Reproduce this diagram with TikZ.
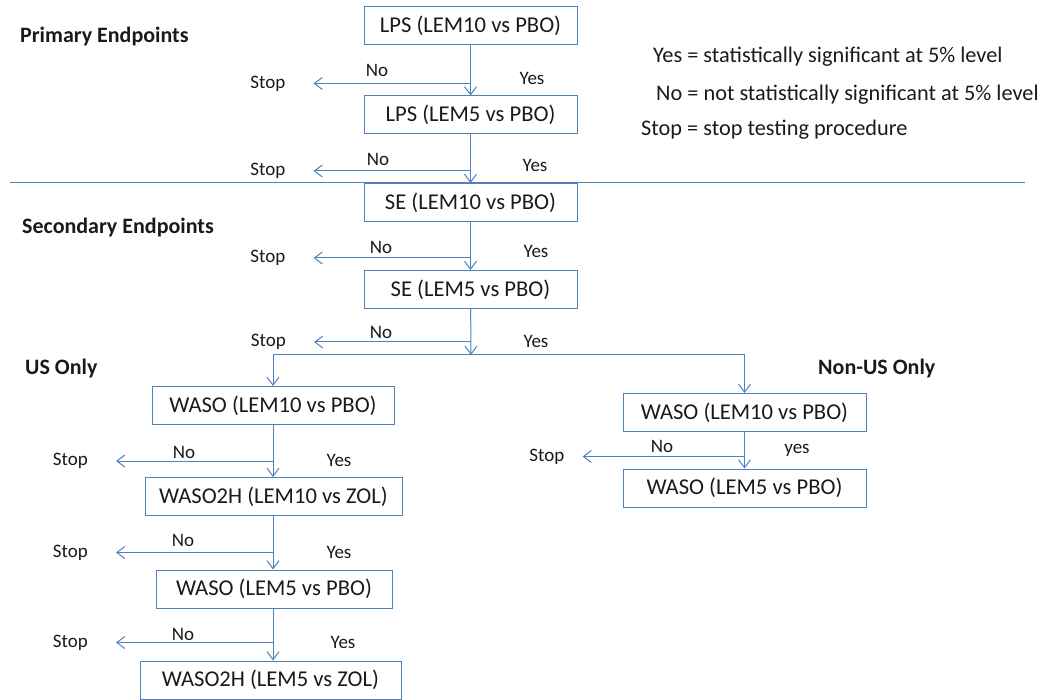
\documentclass[tikz,border=0pt]{standalone}
\usepackage{fontspec}
\setmainfont{Carlito}
\usepackage{tikz}
\usetikzlibrary{positioning, arrows.meta, calc}
\definecolor{flowBlue}{HTML}{4F81BD}
\definecolor{inkDark}{HTML}{1A1A1A}

\begin{document}
\begin{tikzpicture}[
  x=1pt, y=-1pt,
  every node/.style={font=\fontsize{19}{22}\selectfont, text=inkDark},
  test/.style={
    rectangle, draw=flowBlue, line width=1pt,
    minimum height=38pt, inner xsep=0pt,
    font=\fontsize{22.6}{26}\selectfont
  },
  stopnote/.style={inner sep=0pt},
  answer/.style={inner sep=0pt},
  header/.style={font=\fontsize{22}{26}\selectfont\bfseries, anchor=west, inner sep=0pt},
  legend/.style={font=\fontsize{22.3}{26}\selectfont, anchor=west, inner sep=0pt},
  flow/.style={flowBlue, line width=1pt, -{Straight Barb[length=8pt, width=12pt]}},
  nogo/.style={flow, shorten >=28pt},
]
\useasboundingbox (0,0) rectangle (1049,700);

% Primary endpoints
\node[test, minimum width=213pt] (lps10) at (470.5,25.5) {LPS (LEM10 vs PBO)};
\node[test, minimum width=213pt] (lps5) at (470.5,115) {LPS (LEM5 vs PBO)};

% Secondary endpoints
\node[test, minimum width=213pt] (se10) at (470.5,202.5) {SE (LEM10 vs PBO)};
\node[test, minimum width=213pt] (se5) at (470.5,289.5) {SE (LEM5 vs PBO)};

% US only
\node[test, minimum width=242pt] (us1) at (273,405.5) {WASO (LEM10 vs PBO)};
\node[test, minimum width=257pt] (us2) at (273.5,496.5) {WASO2H (LEM10 vs ZOL)};
\node[test, minimum width=236pt] (us3) at (274,589) {WASO (LEM5 vs PBO)};
\node[test, minimum width=261pt] (us4) at (270.5,680) {WASO2H (LEM5 vs ZOL)};

% Non-US only
\node[test, minimum width=243pt] (nu1) at (744.5,412.5) {WASO (LEM10 vs PBO)};
\node[test, minimum width=243pt] (nu2) at (744.5,488) {WASO (LEM5 vs PBO)};

% Section labels
\node[header] (hprim) at (20,37) {Primary Endpoints};
\node[header] (hsec) at (22,228) {Secondary Endpoints};
\node[header] (hus) at (25,369) {US Only};
\node[header] (hnus) at (818,369) {Non-US Only};

% Legend
\node[legend] (ly) at (653,57) {Yes = statistically significant at 5\% level};
\node[legend] (ln) at (656,95) {No = not statistically significant at 5\% level};
\node[legend] (ls) at (641,130) {Stop = stop testing procedure};

% Separator
\draw[flowBlue, line width=1pt] (10,183) coordinate (sepL) -- (1025,183) coordinate (sepR);

% Main trunk
\draw[flow] (lps10) -- (lps5);
\draw[flow] (lps5) -- (se10);
\draw[flow] (se10) -- (se5);
\coordinate (split) at (471,355);
\draw[flow] (se5) -- (split);
\draw[flow] (split) -| (us1);
\draw[flow] (split) -| (nu1);

% US trunk
\draw[flow] (us1.south) -- (us1.south |- us2.north);
\draw[flow] (us1.south |- us2.south) -- (us1.south |- us3.north);
\draw[flow] (us1.south |- us3.south) -- (us1.south |- us4.north);

% Non-US trunk
\draw[flow] (nu1) -- (nu2);

% Branch points for No
\coordinate (q1) at ($(lps5.north)+(0,-12)$);
\coordinate (q2) at ($(se10.north)+(0,-12)$);
\coordinate (q3) at ($(se5.north)+(0,-12)$);
\coordinate (q4) at ($(split)+(0,-13)$);
\coordinate (q5) at ($(us1.south |- us2.north)+(0,-16)$);
\coordinate (q6) at ($(us1.south |- us3.north)+(0,-17)$);
\coordinate (q7) at ($(us1.south |- us4.north)+(0,-18)$);
\coordinate (q8) at ($(nu2.north)+(0,-12)$);

% Stop notes
\foreach \q in {1,...,7} {
  \node[stopnote, left=185pt of q\q] (stop\q) {Stop};
  \draw[nogo] (q\q) -- (stop\q);
}
\node[stopnote, left=180pt of q8] (stop8) {Stop};
\draw[nogo, shorten >=18pt] (q8) -- (stop8);

% Yes / No
\node[answer] (no1) at (377,70) {No};
\node[answer] (yes1) at (532,78) {Yes};
\node[answer] (no2) at (378,159) {No};
\node[answer] (yes2) at (535,165) {Yes};
\node[answer] (no3) at (381,247) {No};
\node[answer] (yes3) at (536,251) {Yes};
\node[answer] (no4) at (381,332) {No};
\node[answer] (yes4) at (536,341) {Yes};
\node[answer] (no5) at (184,452) {No};
\node[answer] (yes5) at (339,460) {Yes};
\node[answer] (no6) at (183,540) {No};
\node[answer] (yes6) at (339,552) {Yes};
\node[answer] (no7) at (183,634) {No};
\node[answer] (yes7) at (343,642) {Yes};
\node[answer] (no8) at (662,446) {No};
\node[answer] (yes8) at (797,450) {yes};

\end{tikzpicture}
\end{document}
